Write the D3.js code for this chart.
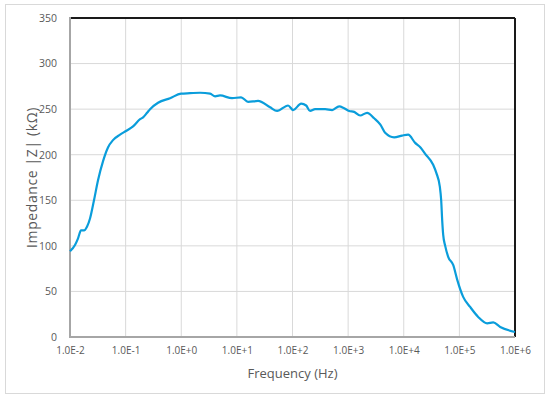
<!DOCTYPE html>
<html>
<head>
<meta charset="utf-8">
<script src="https://cdn.jsdelivr.net/npm/d3@7"></script>
<style>
html,body{margin:0;padding:0;background:#fff;}
svg{display:block;}
text{font-family:"Open Sans","Liberation Sans",sans-serif;fill:#595959;}
</style>
</head>
<body>
<svg id="chart" width="550" height="401"></svg>
<script>
const frequencies = [0.01, 0.0123, 0.0139, 0.0158, 0.0179, 0.0202, 0.0229, 0.0270, 0.0319, 0.0393, 0.0482, 0.0593, 0.0794, 0.1016, 0.136, 0.182, 0.206, 0.243, 0.275, 0.383, 0.629, 0.99, 1.44, 2.18, 3.30, 4.06, 4.99, 8.20, 11.9, 15.9, 24.0, 39.5, 52.8, 83.3, 102.6, 143, 176, 207, 255, 386, 516, 689, 848, 1042, 1282, 1644, 2198, 2938, 3800, 4627, 6716, 9354, 11990, 16030, 20000, 24260, 33800, 38500, 44500, 47100, 49100, 51200, 55600, 62900, 77400, 91300, 117000, 156000, 218000, 316000, 406000, 542000, 1000000];
const impedance = [94, 101, 108, 117, 117, 121, 130, 150, 172, 193, 208, 216, 222, 226, 231, 239, 241, 246, 250, 257, 262, 267, 267.5, 268, 267, 264, 265, 262, 263, 258, 259, 252, 248, 254, 249, 256, 254, 248, 250, 250, 249, 253, 251, 248, 247, 243, 246, 240, 233, 224, 219, 221, 222, 213, 208, 201, 189, 180, 165, 150, 128, 112, 100, 88, 79, 63, 44, 33, 22, 15, 16, 11, 5.5];
const xTicks = [1e-2, 1e-1, 1e0, 1e1, 1e2, 1e3, 1e4, 1e5, 1e6];
const xTickLabels = ["1.0E-2", "1.0E-1", "1.0E+0", "1.0E+1", "1.0E+2", "1.0E+3", "1.0E+4", "1.0E+5", "1.0E+6"];
const yTicks = [0, 50, 100, 150, 200, 250, 300, 350];

const svg = d3.select("#chart");
const W = 550, H = 401;
const m = {left: 70, right: 35, top: 18, bottom: 64};
const x = d3.scaleLog().domain([1e-2, 1e6]).range([m.left, W - m.right]);
const y = d3.scaleLinear().domain([0, 350]).range([H - m.bottom, m.top]);

// outer border
svg.append("rect").attr("x", 5.5).attr("y", 4.5).attr("width", 539).attr("height", 389)
  .attr("fill", "#fff").attr("stroke", "#d9d9d9").attr("stroke-width", 1);

// gridlines
svg.append("g").selectAll("line").data(yTicks.slice(1, -1)).join("line")
  .attr("x1", m.left).attr("x2", W - m.right)
  .attr("y1", d => y(d)).attr("y2", d => y(d))
  .attr("stroke", "#d9d9d9").attr("stroke-width", 1);
svg.append("g").selectAll("line").data(xTicks.slice(1, -1)).join("line")
  .attr("y1", m.top).attr("y2", H - m.bottom)
  .attr("x1", d => x(d)).attr("x2", d => x(d))
  .attr("stroke", "#d9d9d9").attr("stroke-width", 1);

// axes using d3 axis generators (labels)
const yAxis = d3.axisLeft(y).tickValues(yTicks).tickSize(0).tickPadding(13);
const gy = svg.append("g").attr("transform", `translate(${m.left},0)`).call(yAxis);
gy.select(".domain").remove();
gy.selectAll("text").style("font-size", "10.5px").attr("fill", "#595959");

const xAxis = d3.axisBottom(x).tickValues(xTicks).tickFormat((d, i) => xTickLabels[i]).tickSize(0).tickPadding(10);
const gx = svg.append("g").attr("transform", `translate(0,${H - m.bottom})`).call(xAxis);
gx.select(".domain").remove();
gx.selectAll("text").style("font-size", "10px").attr("fill", "#595959");

// frame lines
svg.append("line").attr("x1", m.left).attr("x2", W - m.right).attr("y1", m.top).attr("y2", m.top)
  .attr("stroke", "#1a1a1a").attr("stroke-width", 2);
svg.append("line").attr("x1", W - m.right).attr("x2", W - m.right).attr("y1", m.top).attr("y2", H - m.bottom)
  .attr("stroke", "#1a1a1a").attr("stroke-width", 2);
svg.append("line").attr("x1", m.left).attr("x2", m.left).attr("y1", m.top - 1).attr("y2", H - m.bottom + 1)
  .attr("stroke", "#a6a6a6").attr("stroke-width", 2);
svg.append("line").attr("x1", m.left - 1).attr("x2", W - m.right).attr("y1", H - m.bottom).attr("y2", H - m.bottom)
  .attr("stroke", "#a6a6a6").attr("stroke-width", 2);

// line
const data = frequencies.map((f, i) => ({f, z: impedance[i]}));
const line = d3.line().x(d => x(d.f)).y(d => y(d.z)).curve(d3.curveMonotoneX);
svg.append("path").datum(data).attr("d", line)
  .attr("fill", "none").attr("stroke", "#0a9ddb").attr("stroke-width", 2.2)
  .attr("stroke-linejoin", "round");

// axis titles
svg.append("text").attr("x", (m.left + W - m.right) / 2).attr("y", 378)
  .attr("text-anchor", "middle").style("font-size", "13px").text("Frequency (Hz)");
svg.append("text").attr("transform", `translate(37,${(m.top + H - m.bottom) / 2}) rotate(-90)`)
  .attr("text-anchor", "middle").style("font-size", "14px").style("letter-spacing", "0.6px")
  .text("Impedance |Z| (kΩ)");
</script>
</body>
</html>
